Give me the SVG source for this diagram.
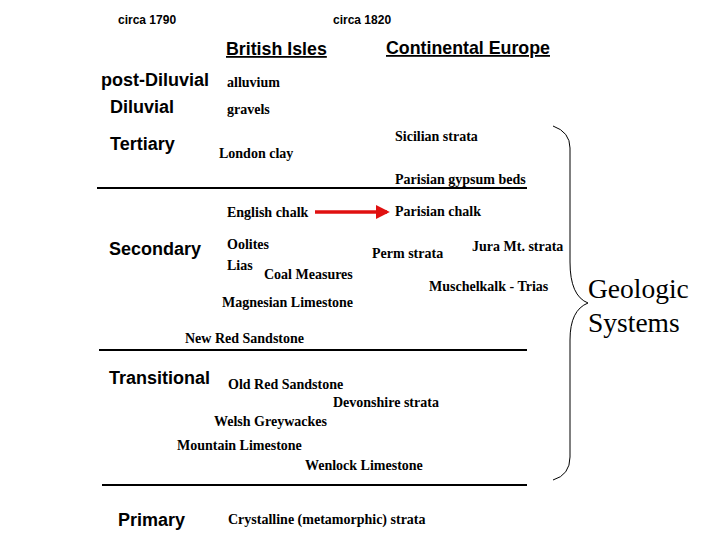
<svg xmlns="http://www.w3.org/2000/svg" width="720" height="540" viewBox="0 0 720 540">
<style>
.h{font-family:"Liberation Sans",Arial,sans-serif;font-weight:bold;fill:#000}
.era{font-size:18px}
.sm{font-size:12px}
.hd{font-size:17.8px;text-decoration:underline}
.s{font-family:"Liberation Serif","Times New Roman",serif;font-weight:bold;font-size:14px;fill:#000}
.g{font-family:"Liberation Serif","Times New Roman",serif;font-size:27.5px;fill:#000}
.rule{stroke:#000;stroke-width:2}
</style>
<defs>
<marker id="ah" markerWidth="4" markerHeight="4" refX="3.2" refY="2" orient="auto" markerUnits="strokeWidth">
<path d="M0,0 L4,2 L0,4 Z" fill="#e01010"/>
</marker>
</defs>
<rect width="720" height="540" fill="#fff"/>
<g id="headers">
<text class="h sm" x="118" y="24">circa 1790</text>
<text class="h sm" x="333" y="24">circa 1820</text>
<text class="h hd" x="226" y="55">British Isles</text>
<text class="h hd" x="386" y="54">Continental Europe</text>
</g>
<g id="eras">
<text class="h era" x="101" y="86">post-Diluvial</text>
<text class="h era" x="110" y="113">Diluvial</text>
<text class="h era" x="110" y="150">Tertiary</text>
<text class="h era" x="109" y="255">Secondary</text>
<text class="h era" x="109" y="384">Transitional</text>
<text class="h era" x="118" y="526">Primary</text>
</g>
<g id="rules">
<line class="rule" x1="97" y1="188" x2="527" y2="188"/>
<line class="rule" x1="99" y1="350" x2="527" y2="350"/>
<line class="rule" x1="102" y1="485" x2="527" y2="485"/>
</g>
<g id="strata">
<text class="s" x="227" y="87">alluvium</text>
<text class="s" x="227" y="114">gravels</text>
<text class="s" x="395" y="141">Sicilian strata</text>
<text class="s" x="219" y="158">London clay</text>
<text class="s" x="395" y="184">Parisian gypsum beds</text>
<g id="english-chalk"><text class="s" x="227" y="217">English chalk</text></g>
<g id="parisian-chalk"><text class="s" x="395" y="216">Parisian chalk</text></g>
<text class="s" x="227" y="249">Oolites</text>
<text class="s" x="227" y="270">Lias</text>
<text class="s" x="264" y="279">Coal Measures</text>
<text class="s" x="372" y="258">Perm strata</text>
<text class="s" x="472" y="251">Jura Mt. strata</text>
<text class="s" x="429" y="291">Muschelkalk - Trias</text>
<text class="s" x="222" y="307">Magnesian Limestone</text>
<text class="s" x="185" y="343">New Red Sandstone</text>
<text class="s" x="228" y="389">Old Red Sandstone</text>
<text class="s" x="333" y="407">Devonshire strata</text>
<text class="s" x="214" y="426">Welsh Greywackes</text>
<text class="s" x="177" y="450">Mountain Limestone</text>
<text class="s" x="305" y="470">Wenlock Limestone</text>
<text class="s" x="228" y="524">Crystalline (metamorphic) strata</text>
</g>
<g id="connectors">
<line x1="315" y1="212" x2="387" y2="212" stroke="#e01010" stroke-width="3.5" marker-end="url(#ah)"/>
</g>
<g id="brace">
<path d="M553,126 Q570,132 570,148 L570,262 Q570,296 588,303 Q570,310 570,340 L570,457 Q570,475 553,480" fill="none" stroke="#000" stroke-width="1"/>
<text class="g" x="588" y="298">Geologic</text>
<text class="g" x="588" y="332">Systems</text>
</g>
</svg>
